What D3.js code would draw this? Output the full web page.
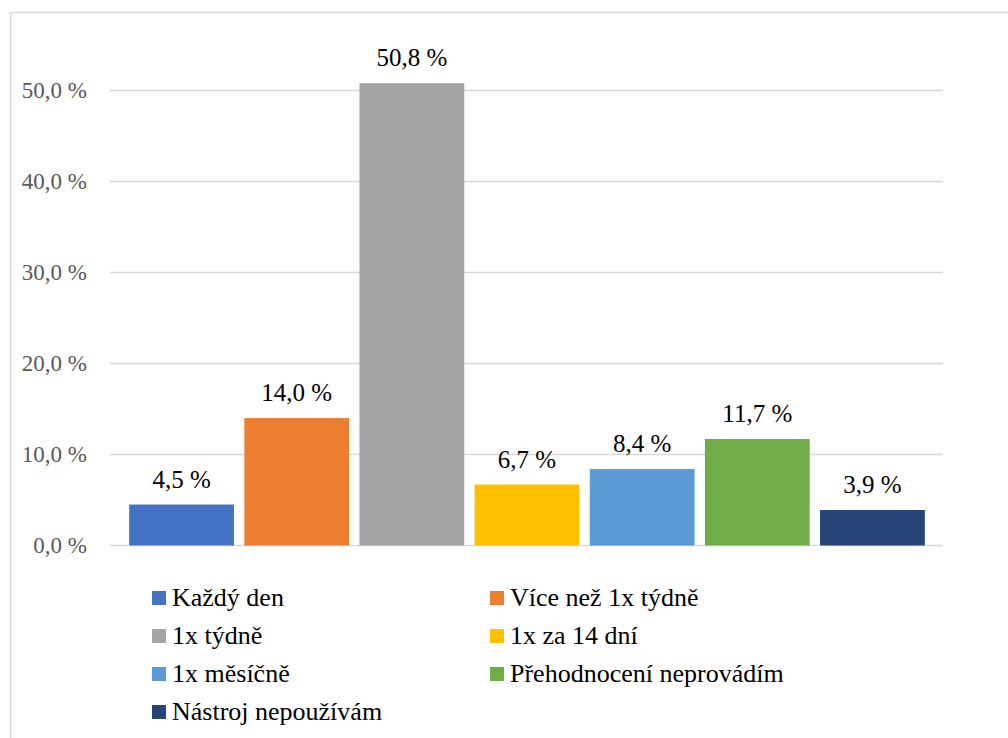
<!DOCTYPE html>
<html>
<head>
<meta charset="utf-8">
<script src="https://cdn.jsdelivr.net/npm/d3@7"></script>
<style>
	body { margin: 0; background: #fff; }
	svg text { font-family: 'Liberation Serif', 'Times New Roman', Times, 'DejaVu Serif', serif; }
</style>
</head>
<body>
<svg id="chart" width="1008" height="738"></svg>
<script>
// categories and values (percent)
var categories = ['Každý den', 'Více než 1x týdně', '1x týdně', '1x za 14 dní', '1x měsíčně', 'Přehodnocení neprovádím', 'Nástroj nepoužívám'];
var values = [4.5, 14.0, 50.8, 6.7, 8.4, 11.7, 3.9];
var colors = ['#4472C4', '#ED7D31', '#A5A5A5', '#FFC000', '#5B9BD5', '#70AD47', '#264478'];
var yTicks = [0, 10, 20, 30, 40, 50];

var FONT = "'Liberation Serif', 'Times New Roman', Times, 'DejaVu Serif', serif";
var fmt = function(v) { return d3.format('.1f')(v).replace('.', ',') + ' %'; };

var svg = d3.select('#chart');

// outer frame (right and bottom edges fall outside the picture)
svg.append('rect')
	.attr('x', 10.5).attr('y', 12.5)
	.attr('width', 1200).attr('height', 900)
	.attr('fill', 'none')
	.attr('stroke', '#d9d9d9')
	.attr('stroke-width', 1.5);

var plotLeft = 110, plotRight = 943;

var y = d3.scaleLinear().domain([0, 50]).range([545.5, 90.5]);
var x = d3.scaleBand().domain(categories).range([124, 930]).paddingInner(0.09).paddingOuter(0.045);

// gridlines
svg.append('g')
	.selectAll('line')
	.data(yTicks)
	.join('line')
	.attr('x1', plotLeft).attr('x2', plotRight)
	.attr('y1', function(d) { return y(d); })
	.attr('y2', function(d) { return y(d); })
	.attr('stroke', '#d9d9d9')
	.attr('stroke-width', 1.5);

// y axis labels
var yAxis = svg.append('g')
	.attr('transform', 'translate(87,0)')
	.call(d3.axisLeft(y).tickValues(yTicks).tickSize(0).tickPadding(0).tickFormat(fmt))
	.attr('font-family', FONT)
	.attr('font-size', 23);
yAxis.select('.domain').remove();
yAxis.selectAll('text')
	.attr('fill', '#595959');

// bars
svg.append('g')
	.selectAll('rect')
	.data(values)
	.join('rect')
	.attr('x', function(d, i) { return x(categories[i]); })
	.attr('y', function(d) { return y(d); })
	.attr('width', x.bandwidth())
	.attr('height', function(d) { return y(0) - y(d); })
	.attr('fill', function(d, i) { return colors[i]; });

// data labels
svg.append('g')
	.attr('font-family', FONT)
	.attr('font-size', 25)
	.selectAll('text')
	.data(values)
	.join('text')
	.attr('x', function(d, i) { return x(categories[i]) + x.bandwidth() / 2; })
	.attr('y', function(d) { return y(d) - 17; })
	.attr('text-anchor', 'middle')
	.attr('fill', '#000')
	.text(fmt);

// legend, two columns
var legendCols = [152, 490];
var legend = svg.append('g')
	.attr('font-family', FONT)
	.attr('font-size', 26)
	.selectAll('g')
	.data(categories)
	.join('g')
	.attr('transform', function(d, i) {
		return 'translate(' + legendCols[i % 2] + ',' + (598 + Math.floor(i / 2) * 38) + ')';
	});

legend.append('rect')
	.attr('x', 0).attr('y', -7)
	.attr('width', 14).attr('height', 14)
	.attr('fill', function(d, i) { return colors[i]; });

legend.append('text')
	.attr('x', 20).attr('y', 8)
	.attr('fill', '#000')
	.text(function(d) { return d; });
</script>
</body>
</html>
